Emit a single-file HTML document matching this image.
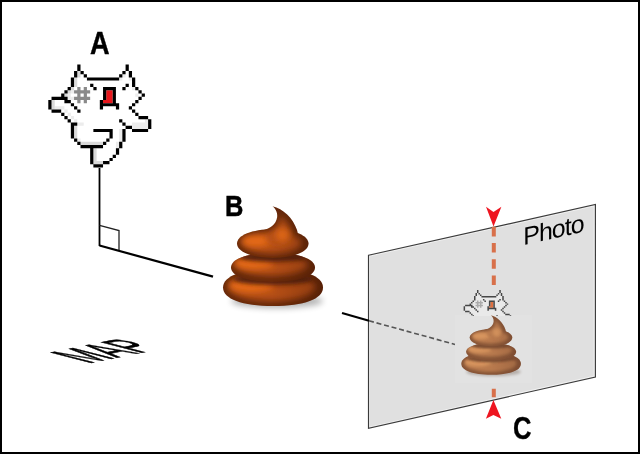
<!DOCTYPE html>
<html><head><meta charset="utf-8">
<style>
html,body{margin:0;padding:0;background:#fff;}
body{width:640px;height:454px;overflow:hidden;position:relative;}
svg{position:absolute;left:0;top:0;}
text{font-family:"Liberation Sans",sans-serif;}
.gs{will-change:transform;}
</style></head><body>
<svg class="gs" width="640" height="454" viewBox="0 0 640 454">
<defs>
<filter id="b3" x="-50%" y="-50%" width="200%" height="200%"><feGaussianBlur stdDeviation="3"/></filter>
<filter id="b05" x="-5%" y="-5%" width="110%" height="110%"><feGaussianBlur stdDeviation="0.6"/></filter>
<filter id="b04" x="-5%" y="-5%" width="110%" height="110%"><feGaussianBlur stdDeviation="0.35"/></filter>
<filter id="b2" x="-50%" y="-50%" width="200%" height="200%"><feGaussianBlur stdDeviation="2"/></filter>
<filter id="mini" color-interpolation-filters="sRGB"><feColorMatrix type="matrix" values="0.625 0 0 0 0.278  0 0.97 0 0 0.178  0 0.6 0 0 0.118  0 0 0 1 0"/></filter>
<clipPath id="cb"><path d="M223,287.5 C223,276.03 242.0,269 273.0,269 C304.0,269 323,276.03 323,287.5 C323,298.97 304.0,306 273.0,306 C242.0,306 223,298.97 223,287.5 Z"/></clipPath>
<clipPath id="cm"><path d="M231,267.5 C231,258.8 247.8,253 273.0,253 C298.2,253 315,258.8 315,267.5 C315,276.2 298.2,282 273.0,282 C247.8,282 231,276.2 231,267.5 Z"/></clipPath>
<clipPath id="ct"><path d="M237,243.6 C237,235.248 252.015,229.2 272.75,229.2 C293.485,229.2 308.5,235.248 308.5,243.6 C308.5,251.952 293.485,258 272.75,258 C252.015,258 237,251.952 237,243.6 Z"/><path d="M272.5,206.2 C283,208.5 293,218 297,230 C299,237 298,242 292,246 C285,249 265,249 258,244 C252,240 254,233 262,230.5 C270,228.5 276,225 277.2,217 C277.8,212 275,208 272.5,206.2 Z"/></clipPath>
<linearGradient id="rdark" x1="0" y1="0" x2="1" y2="0"><stop offset="0" stop-color="#3a1200" stop-opacity="0"/><stop offset="0.5" stop-color="#3a1200" stop-opacity="0"/><stop offset="1" stop-color="#3a1200" stop-opacity="0.35"/></linearGradient>
<clipPath id="call"><path d="M223,287.5 C223,276.03 242.0,269 273.0,269 C304.0,269 323,276.03 323,287.5 C323,298.97 304.0,306 273.0,306 C242.0,306 223,298.97 223,287.5 Z"/><path d="M231,267.5 C231,258.8 247.8,253 273.0,253 C298.2,253 315,258.8 315,267.5 C315,276.2 298.2,282 273.0,282 C247.8,282 231,276.2 231,267.5 Z"/><path d="M237,243.6 C237,235.248 252.015,229.2 272.75,229.2 C293.485,229.2 308.5,235.248 308.5,243.6 C308.5,251.952 293.485,258 272.75,258 C252.015,258 237,251.952 237,243.6 Z"/><path d="M272.5,206.2 C283,208.5 293,218 297,230 C299,237 298,242 292,246 C285,249 265,249 258,244 C252,240 254,233 262,230.5 C270,228.5 276,225 277.2,217 C277.8,212 275,208 272.5,206.2 Z"/></clipPath>
<clipPath id="minicl"><rect x="440" y="280" width="100" height="36"/></clipPath>
</defs>
<rect x="1" y="1" width="638" height="452" fill="#fff" stroke="#000" stroke-width="2"/>
<text x="90.1" y="54" font-size="30.8" font-weight="bold" fill="#000" stroke="#000" stroke-width="0.4" transform="translate(90.1,0) scale(0.88,1) translate(-90.1,0)">A</text>
<text x="225" y="216" font-size="29.6" font-weight="bold" fill="#000" stroke="#000" stroke-width="0.5" transform="translate(225,0) scale(0.86,1) translate(-225,0)">B</text>
<text x="513" y="439.2" font-size="32" font-weight="bold" fill="#000" stroke="#000" stroke-width="0.4" transform="translate(513,0) scale(0.8,1) translate(-513,0)">C</text>
<line x1="99.5" y1="168" x2="99.5" y2="246" stroke="#000" stroke-width="1.8"/>
<polyline points="99.5,225.4 119,230.5 119,250.5" fill="none" stroke="#222" stroke-width="1.3"/>
<line x1="99.5" y1="245.5" x2="213" y2="276.6" stroke="#000" stroke-width="2.2"/>
<polygon points="368.5,255.3 595.4,204.5 595.4,377 368.5,428.3" fill="#f0f0f0" stroke="#3a3a3a" stroke-width="1.15"/>
<polygon points="370,256.6 593.6,206.5 593.6,375.8 370,426.4" fill="#e0e0e0" filter="url(#b05)"/>
<line x1="342" y1="313" x2="369" y2="320.8" stroke="#000" stroke-width="2.2"/>
<line x1="369" y1="320.8" x2="455" y2="344.4" stroke="#555" stroke-width="1.6" stroke-dasharray="5 2.8"/>
<text transform="translate(523.3,245.2) skewY(-12.6)" font-size="25" letter-spacing="-1" fill="#000">Photo</text>
<line x1="493.8" y1="226.8" x2="493.8" y2="397.3" stroke="#d8704a" stroke-width="4" stroke-dasharray="9.6 6.6"/>
<polygon points="486,206.8 493.5,211.9 501.4,206.8 493.5,226.4" fill="#ee1520"/>
<polygon points="493.4,400 501.3,418.8 493.4,415.1 485.9,418.8" fill="#ee1520"/>
<text transform="matrix(1.683,-0.343,2.95,0.754,88.6,363.5)" font-size="20" fill="#000" stroke="#000" stroke-width="0.45">MAP</text>
<g><g>
<ellipse cx="277" cy="301" rx="46" ry="7" fill="#000" opacity="0.3" filter="url(#b3)"/>
<path d="M223,287.5 C223,276.03 242.0,269 273.0,269 C304.0,269 323,276.03 323,287.5 C323,298.97 304.0,306 273.0,306 C242.0,306 223,298.97 223,287.5 Z" fill="#66280b"/>
<g clip-path="url(#cb)">
<ellipse cx="272" cy="287" rx="43.5" ry="14" fill="#b64f18" filter="url(#b3)"/>
<ellipse cx="251" cy="285" rx="22" ry="7" fill="#e66a16" filter="url(#b3)"/>
<ellipse cx="273" cy="279" rx="40" ry="6" fill="#56200a" filter="url(#b2)"/>
</g>
<path d="M231,267.5 C231,258.8 247.8,253 273.0,253 C298.2,253 315,258.8 315,267.5 C315,276.2 298.2,282 273.0,282 C247.8,282 231,276.2 231,267.5 Z" fill="#66280b"/>
<g clip-path="url(#cm)">
<ellipse cx="272" cy="265" rx="36" ry="10.5" fill="#b64f18" filter="url(#b3)"/>
<ellipse cx="253" cy="263" rx="20" ry="6" fill="#e66a16" filter="url(#b3)"/>
<ellipse cx="273" cy="257" rx="33" ry="5" fill="#56200a" filter="url(#b2)"/>
</g>
<path d="M237,243.6 C237,235.248 252.015,229.2 272.75,229.2 C293.485,229.2 308.5,235.248 308.5,243.6 C308.5,251.952 293.485,258 272.75,258 C252.015,258 237,251.952 237,243.6 Z" fill="#66280b"/>
<path d="M272.5,206.2 C283,208.5 293,218 297,230 C299,237 298,242 292,246 C285,249 265,249 258,244 C252,240 254,233 262,230.5 C270,228.5 276,225 277.2,217 C277.8,212 275,208 272.5,206.2 Z" fill="#66280b"/>
<g clip-path="url(#ct)">
<ellipse cx="272" cy="243" rx="29.5" ry="10.5" fill="#b64f18" filter="url(#b3)"/>
<ellipse cx="256" cy="241" rx="15" ry="5.5" fill="#e66a16" filter="url(#b3)"/>
<path d="M276,213 C283,217 290,224 291,234 C291,241 284,244 276,244 C268,244 264,239 268,234 C276,229 281,224 280,216 Z" fill="#b64f18" filter="url(#b3)"/>
<ellipse cx="283" cy="235" rx="7" ry="7" fill="#e66a16" filter="url(#b3)"/>
</g>
<rect x="220" y="200" width="106" height="110" fill="url(#rdark)" clip-path="url(#call)"/>
</g></g>
<g filter="url(#b04)"><g transform="translate(48.3,64.5) scale(3.22)"><path d="M2 13h1v1h-1zM3 13h1v1h-1zM4 13h1v1h-1zM5 14h1v1h-1zM6 9h1v1h-1zM6 10h1v1h-1zM6 15h1v1h-1zM7 8h1v1h-1zM7 10h1v1h-1zM7 16h1v1h-1zM8 17h1v1h-1zM9 18h1v1h-1zM9 23h1v1h-1zM10 18h1v1h-1zM21 24h1v1h-1zM21 25h1v1h-1zM22 4h1v1h-1zM22 20h1v1h-1zM22 21h1v1h-1zM22 22h1v1h-1zM22 23h1v1h-1zM23 3h1v1h-1zM25 4h1v1h-1zM26 7h1v1h-1zM26 18h1v1h-1zM26 19h1v1h-1zM27 9h1v1h-1zM27 18h1v1h-1zM27 19h1v1h-1zM28 18h1v1h-1zM28 19h1v1h-1zM29 18h1v1h-1zM29 19h1v1h-1zM30 17h1v1h-1zM30 18h1v1h-1zM30 19h1v1h-1z" fill="#ececec"/><path d="M1 11h1v1h-1zM1 12h1v1h-1zM1 13h1v1h-1zM5 9h1v1h-1zM6 8h1v1h-1zM7 7h1v1h-1zM8 4h1v1h-1zM8 5h1v1h-1zM8 6h1v1h-1zM8 19h1v1h-1zM8 20h1v1h-1zM8 21h1v1h-1zM8 22h1v1h-1zM9 2h1v1h-1zM9 3h1v1h-1zM10 24h1v1h-1zM11 24h1v1h-1zM12 24h1v1h-1zM13 24h1v1h-1zM14 24h1v1h-1zM14 26h1v1h-1zM14 27h1v1h-1zM14 28h1v1h-1zM14 29h1v1h-1zM14 30h1v1h-1zM15 24h1v1h-1zM15 30h1v1h-1zM16 24h1v1h-1zM16 30h1v1h-1z" fill="#d9d9d9"/><path d="M8 8h1v1h-1zM8 10h1v1h-1zM9 7h1v1h-1zM9 8h1v1h-1zM9 9h1v1h-1zM9 10h1v1h-1zM9 11h1v1h-1zM10 8h1v1h-1zM10 10h1v1h-1zM11 7h1v1h-1zM11 8h1v1h-1zM11 9h1v1h-1zM11 10h1v1h-1zM11 11h1v1h-1zM12 8h1v1h-1zM12 10h1v1h-1z" fill="#8a8a8a"/><path d="M17 11h1v1h-1zM18 8h1v1h-1zM18 9h1v1h-1zM18 10h1v1h-1zM18 11h1v1h-1zM19 8h1v1h-1zM19 9h1v1h-1zM19 10h1v1h-1zM19 11h1v1h-1z" fill="#e8141c"/><path d="M0 11h1v1h-1zM0 12h1v1h-1zM0 13h1v1h-1zM1 10h1v1h-1zM1 14h1v1h-1zM2 10h1v1h-1zM2 14h1v1h-1zM3 10h1v1h-1zM3 14h1v1h-1zM4 9h1v1h-1zM4 10h1v1h-1zM4 15h1v1h-1zM5 8h1v1h-1zM5 10h1v1h-1zM5 11h1v1h-1zM5 16h1v1h-1zM6 7h1v1h-1zM6 11h1v1h-1zM6 17h1v1h-1zM7 4h1v1h-1zM7 5h1v1h-1zM7 6h1v1h-1zM7 12h1v1h-1zM7 18h1v1h-1zM7 19h1v1h-1zM7 20h1v1h-1zM7 21h1v1h-1zM7 22h1v1h-1zM8 2h1v1h-1zM8 3h1v1h-1zM8 13h1v1h-1zM8 18h1v1h-1zM8 23h1v1h-1zM9 0h1v1h-1zM9 1h1v1h-1zM9 14h1v1h-1zM9 24h1v1h-1zM10 2h1v1h-1zM10 25h1v1h-1zM11 3h1v1h-1zM11 25h1v1h-1zM12 4h1v1h-1zM12 25h1v1h-1zM13 4h1v1h-1zM13 6h1v1h-1zM13 25h1v1h-1zM13 26h1v1h-1zM13 27h1v1h-1zM13 28h1v1h-1zM13 29h1v1h-1zM13 30h1v1h-1zM14 4h1v1h-1zM14 7h1v1h-1zM14 20h1v1h-1zM14 25h1v1h-1zM14 31h1v1h-1zM15 4h1v1h-1zM15 20h1v1h-1zM15 25h1v1h-1zM15 31h1v1h-1zM16 4h1v1h-1zM16 11h1v1h-1zM16 12h1v1h-1zM16 13h1v1h-1zM16 20h1v1h-1zM16 25h1v1h-1zM16 31h1v1h-1zM17 4h1v1h-1zM17 7h1v1h-1zM17 8h1v1h-1zM17 9h1v1h-1zM17 10h1v1h-1zM17 12h1v1h-1zM17 20h1v1h-1zM17 24h1v1h-1zM17 30h1v1h-1zM18 4h1v1h-1zM18 7h1v1h-1zM18 12h1v1h-1zM18 20h1v1h-1zM18 23h1v1h-1zM18 30h1v1h-1zM19 4h1v1h-1zM19 7h1v1h-1zM19 12h1v1h-1zM19 20h1v1h-1zM19 21h1v1h-1zM19 22h1v1h-1zM19 29h1v1h-1zM20 4h1v1h-1zM20 7h1v1h-1zM20 8h1v1h-1zM20 9h1v1h-1zM20 10h1v1h-1zM20 11h1v1h-1zM20 12h1v1h-1zM20 28h1v1h-1zM21 4h1v1h-1zM21 12h1v1h-1zM21 13h1v1h-1zM21 26h1v1h-1zM21 27h1v1h-1zM22 3h1v1h-1zM22 17h1v1h-1zM22 24h1v1h-1zM22 25h1v1h-1zM23 2h1v1h-1zM23 7h1v1h-1zM23 18h1v1h-1zM23 20h1v1h-1zM23 21h1v1h-1zM23 22h1v1h-1zM23 23h1v1h-1zM24 0h1v1h-1zM24 1h1v1h-1zM24 6h1v1h-1zM24 19h1v1h-1zM25 2h1v1h-1zM25 3h1v1h-1zM25 13h1v1h-1zM25 19h1v1h-1zM26 4h1v1h-1zM26 5h1v1h-1zM26 6h1v1h-1zM26 12h1v1h-1zM26 14h1v1h-1zM26 20h1v1h-1zM27 7h1v1h-1zM27 11h1v1h-1zM27 15h1v1h-1zM27 20h1v1h-1zM28 8h1v1h-1zM28 10h1v1h-1zM28 16h1v1h-1zM28 20h1v1h-1zM29 9h1v1h-1zM29 16h1v1h-1zM29 20h1v1h-1zM30 16h1v1h-1zM30 20h1v1h-1zM31 17h1v1h-1zM31 18h1v1h-1zM31 19h1v1h-1z" fill="#000"/></g></g>

<rect x="455" y="285" width="77" height="31" fill="#e0e0e0"/><rect x="455" y="315" width="77" height="68" fill="#e2e2e2"/>
<g clip-path="url(#minicl)"><g transform="translate(463.6,290) scale(1.487)"><path d="M1 11h1v1h-1zM1 12h1v1h-1zM1 13h1v1h-1zM2 11h1v1h-1zM2 12h1v1h-1zM2 13h1v1h-1zM3 11h1v1h-1zM3 12h1v1h-1zM3 13h1v1h-1zM4 11h1v1h-1zM4 12h1v1h-1zM4 13h1v1h-1zM4 14h1v1h-1zM5 9h1v1h-1zM5 12h1v1h-1zM5 13h1v1h-1zM5 14h1v1h-1zM5 15h1v1h-1zM6 8h1v1h-1zM6 9h1v1h-1zM6 10h1v1h-1zM6 12h1v1h-1zM6 13h1v1h-1zM6 14h1v1h-1zM6 15h1v1h-1zM6 16h1v1h-1zM7 7h1v1h-1zM7 8h1v1h-1zM7 9h1v1h-1zM7 10h1v1h-1zM7 11h1v1h-1zM7 13h1v1h-1zM7 14h1v1h-1zM7 15h1v1h-1zM7 16h1v1h-1zM7 17h1v1h-1zM8 4h1v1h-1zM8 5h1v1h-1zM8 6h1v1h-1zM8 7h1v1h-1zM8 8h1v1h-1zM8 9h1v1h-1zM8 10h1v1h-1zM8 11h1v1h-1zM8 12h1v1h-1zM8 14h1v1h-1zM8 15h1v1h-1zM8 16h1v1h-1zM8 17h1v1h-1zM8 19h1v1h-1zM8 20h1v1h-1zM8 21h1v1h-1zM8 22h1v1h-1zM9 2h1v1h-1zM9 3h1v1h-1zM9 4h1v1h-1zM9 5h1v1h-1zM9 6h1v1h-1zM9 7h1v1h-1zM9 8h1v1h-1zM9 9h1v1h-1zM9 10h1v1h-1zM9 11h1v1h-1zM9 12h1v1h-1zM9 13h1v1h-1zM9 15h1v1h-1zM9 16h1v1h-1zM9 17h1v1h-1zM9 18h1v1h-1zM9 19h1v1h-1zM9 20h1v1h-1zM9 21h1v1h-1zM9 22h1v1h-1zM9 23h1v1h-1zM10 3h1v1h-1zM10 4h1v1h-1zM10 5h1v1h-1zM10 6h1v1h-1zM10 7h1v1h-1zM10 8h1v1h-1zM10 9h1v1h-1zM10 10h1v1h-1zM10 11h1v1h-1zM10 12h1v1h-1zM10 13h1v1h-1zM10 14h1v1h-1zM10 15h1v1h-1zM10 16h1v1h-1zM10 17h1v1h-1zM10 18h1v1h-1zM10 19h1v1h-1zM10 20h1v1h-1zM10 21h1v1h-1zM10 22h1v1h-1zM10 23h1v1h-1zM10 24h1v1h-1zM11 4h1v1h-1zM11 5h1v1h-1zM11 6h1v1h-1zM11 7h1v1h-1zM11 8h1v1h-1zM11 9h1v1h-1zM11 10h1v1h-1zM11 11h1v1h-1zM11 12h1v1h-1zM11 13h1v1h-1zM11 14h1v1h-1zM11 15h1v1h-1zM11 16h1v1h-1zM11 17h1v1h-1zM11 18h1v1h-1zM11 19h1v1h-1zM11 20h1v1h-1zM11 21h1v1h-1zM11 22h1v1h-1zM11 23h1v1h-1zM11 24h1v1h-1zM12 5h1v1h-1zM12 6h1v1h-1zM12 7h1v1h-1zM12 8h1v1h-1zM12 9h1v1h-1zM12 10h1v1h-1zM12 11h1v1h-1zM12 12h1v1h-1zM12 13h1v1h-1zM12 14h1v1h-1zM12 15h1v1h-1zM12 16h1v1h-1zM12 17h1v1h-1zM12 18h1v1h-1zM12 19h1v1h-1zM12 20h1v1h-1zM12 21h1v1h-1zM12 22h1v1h-1zM12 23h1v1h-1zM12 24h1v1h-1zM13 5h1v1h-1zM13 7h1v1h-1zM13 8h1v1h-1zM13 9h1v1h-1zM13 10h1v1h-1zM13 11h1v1h-1zM13 12h1v1h-1zM13 13h1v1h-1zM13 14h1v1h-1zM13 15h1v1h-1zM13 16h1v1h-1zM13 17h1v1h-1zM13 18h1v1h-1zM13 19h1v1h-1zM13 20h1v1h-1zM13 21h1v1h-1zM13 22h1v1h-1zM13 23h1v1h-1zM13 24h1v1h-1zM14 5h1v1h-1zM14 6h1v1h-1zM14 8h1v1h-1zM14 9h1v1h-1zM14 10h1v1h-1zM14 11h1v1h-1zM14 12h1v1h-1zM14 13h1v1h-1zM14 14h1v1h-1zM14 15h1v1h-1zM14 16h1v1h-1zM14 17h1v1h-1zM14 18h1v1h-1zM14 19h1v1h-1zM14 21h1v1h-1zM14 22h1v1h-1zM14 23h1v1h-1zM14 24h1v1h-1zM14 26h1v1h-1zM14 27h1v1h-1zM14 28h1v1h-1zM14 29h1v1h-1zM14 30h1v1h-1zM15 5h1v1h-1zM15 6h1v1h-1zM15 7h1v1h-1zM15 8h1v1h-1zM15 9h1v1h-1zM15 10h1v1h-1zM15 11h1v1h-1zM15 12h1v1h-1zM15 13h1v1h-1zM15 14h1v1h-1zM15 15h1v1h-1zM15 16h1v1h-1zM15 17h1v1h-1zM15 18h1v1h-1zM15 19h1v1h-1zM15 21h1v1h-1zM15 22h1v1h-1zM15 23h1v1h-1zM15 24h1v1h-1zM15 26h1v1h-1zM15 27h1v1h-1zM15 28h1v1h-1zM15 29h1v1h-1zM15 30h1v1h-1zM16 5h1v1h-1zM16 6h1v1h-1zM16 7h1v1h-1zM16 8h1v1h-1zM16 9h1v1h-1zM16 10h1v1h-1zM16 14h1v1h-1zM16 15h1v1h-1zM16 16h1v1h-1zM16 17h1v1h-1zM16 18h1v1h-1zM16 19h1v1h-1zM16 21h1v1h-1zM16 22h1v1h-1zM16 23h1v1h-1zM16 24h1v1h-1zM16 26h1v1h-1zM16 27h1v1h-1zM16 28h1v1h-1zM16 29h1v1h-1zM16 30h1v1h-1zM17 5h1v1h-1zM17 6h1v1h-1zM17 11h1v1h-1zM17 13h1v1h-1zM17 14h1v1h-1zM17 15h1v1h-1zM17 16h1v1h-1zM17 17h1v1h-1zM17 18h1v1h-1zM17 19h1v1h-1zM17 21h1v1h-1zM17 22h1v1h-1zM17 23h1v1h-1zM17 25h1v1h-1zM17 26h1v1h-1zM17 27h1v1h-1zM17 28h1v1h-1zM17 29h1v1h-1zM18 5h1v1h-1zM18 6h1v1h-1zM18 8h1v1h-1zM18 9h1v1h-1zM18 10h1v1h-1zM18 11h1v1h-1zM18 13h1v1h-1zM18 14h1v1h-1zM18 15h1v1h-1zM18 16h1v1h-1zM18 17h1v1h-1zM18 18h1v1h-1zM18 19h1v1h-1zM18 21h1v1h-1zM18 22h1v1h-1zM18 24h1v1h-1zM18 25h1v1h-1zM18 26h1v1h-1zM18 27h1v1h-1zM18 28h1v1h-1zM18 29h1v1h-1zM19 5h1v1h-1zM19 6h1v1h-1zM19 8h1v1h-1zM19 9h1v1h-1zM19 10h1v1h-1zM19 11h1v1h-1zM19 13h1v1h-1zM19 14h1v1h-1zM19 15h1v1h-1zM19 16h1v1h-1zM19 17h1v1h-1zM19 18h1v1h-1zM19 19h1v1h-1zM19 23h1v1h-1zM19 24h1v1h-1zM19 25h1v1h-1zM19 26h1v1h-1zM19 27h1v1h-1zM19 28h1v1h-1zM20 5h1v1h-1zM20 6h1v1h-1zM20 13h1v1h-1zM20 14h1v1h-1zM20 15h1v1h-1zM20 16h1v1h-1zM20 17h1v1h-1zM20 18h1v1h-1zM20 19h1v1h-1zM20 20h1v1h-1zM20 21h1v1h-1zM20 22h1v1h-1zM20 23h1v1h-1zM20 24h1v1h-1zM20 25h1v1h-1zM20 26h1v1h-1zM20 27h1v1h-1zM21 5h1v1h-1zM21 6h1v1h-1zM21 7h1v1h-1zM21 8h1v1h-1zM21 9h1v1h-1zM21 10h1v1h-1zM21 11h1v1h-1zM21 14h1v1h-1zM21 15h1v1h-1zM21 16h1v1h-1zM21 17h1v1h-1zM21 18h1v1h-1zM21 19h1v1h-1zM21 20h1v1h-1zM21 21h1v1h-1zM21 22h1v1h-1zM21 23h1v1h-1zM21 24h1v1h-1zM21 25h1v1h-1zM22 4h1v1h-1zM22 5h1v1h-1zM22 6h1v1h-1zM22 7h1v1h-1zM22 8h1v1h-1zM22 9h1v1h-1zM22 10h1v1h-1zM22 11h1v1h-1zM22 12h1v1h-1zM22 13h1v1h-1zM22 14h1v1h-1zM22 15h1v1h-1zM22 16h1v1h-1zM22 18h1v1h-1zM22 19h1v1h-1zM22 20h1v1h-1zM22 21h1v1h-1zM22 22h1v1h-1zM22 23h1v1h-1zM23 3h1v1h-1zM23 4h1v1h-1zM23 5h1v1h-1zM23 6h1v1h-1zM23 8h1v1h-1zM23 9h1v1h-1zM23 10h1v1h-1zM23 11h1v1h-1zM23 12h1v1h-1zM23 13h1v1h-1zM23 14h1v1h-1zM23 15h1v1h-1zM23 16h1v1h-1zM23 17h1v1h-1zM23 19h1v1h-1zM24 2h1v1h-1zM24 3h1v1h-1zM24 4h1v1h-1zM24 5h1v1h-1zM24 7h1v1h-1zM24 8h1v1h-1zM24 9h1v1h-1zM24 10h1v1h-1zM24 11h1v1h-1zM24 12h1v1h-1zM24 13h1v1h-1zM24 14h1v1h-1zM24 15h1v1h-1zM24 16h1v1h-1zM24 17h1v1h-1zM24 18h1v1h-1zM25 4h1v1h-1zM25 5h1v1h-1zM25 6h1v1h-1zM25 7h1v1h-1zM25 8h1v1h-1zM25 9h1v1h-1zM25 10h1v1h-1zM25 11h1v1h-1zM25 12h1v1h-1zM25 14h1v1h-1zM25 15h1v1h-1zM25 16h1v1h-1zM25 17h1v1h-1zM25 18h1v1h-1zM26 7h1v1h-1zM26 8h1v1h-1zM26 9h1v1h-1zM26 10h1v1h-1zM26 11h1v1h-1zM26 15h1v1h-1zM26 16h1v1h-1zM26 17h1v1h-1zM26 18h1v1h-1zM26 19h1v1h-1zM27 8h1v1h-1zM27 9h1v1h-1zM27 10h1v1h-1zM27 16h1v1h-1zM27 17h1v1h-1zM27 18h1v1h-1zM27 19h1v1h-1zM28 9h1v1h-1zM28 17h1v1h-1zM28 18h1v1h-1zM28 19h1v1h-1zM29 17h1v1h-1zM29 18h1v1h-1zM29 19h1v1h-1zM30 17h1v1h-1zM30 18h1v1h-1zM30 19h1v1h-1z" fill="#e9e9e9"/><path d="M2 13h1v1h-1zM3 13h1v1h-1zM4 13h1v1h-1zM5 14h1v1h-1zM6 9h1v1h-1zM6 10h1v1h-1zM6 15h1v1h-1zM7 8h1v1h-1zM7 10h1v1h-1zM7 16h1v1h-1zM8 17h1v1h-1zM9 18h1v1h-1zM9 23h1v1h-1zM10 18h1v1h-1zM21 24h1v1h-1zM21 25h1v1h-1zM22 4h1v1h-1zM22 20h1v1h-1zM22 21h1v1h-1zM22 22h1v1h-1zM22 23h1v1h-1zM23 3h1v1h-1zM25 4h1v1h-1zM26 7h1v1h-1zM26 18h1v1h-1zM26 19h1v1h-1zM27 9h1v1h-1zM27 18h1v1h-1zM27 19h1v1h-1zM28 18h1v1h-1zM28 19h1v1h-1zM29 18h1v1h-1zM29 19h1v1h-1zM30 17h1v1h-1zM30 18h1v1h-1zM30 19h1v1h-1z" fill="#e8e8e8"/><path d="M1 11h1v1h-1zM1 12h1v1h-1zM1 13h1v1h-1zM5 9h1v1h-1zM6 8h1v1h-1zM7 7h1v1h-1zM8 4h1v1h-1zM8 5h1v1h-1zM8 6h1v1h-1zM8 19h1v1h-1zM8 20h1v1h-1zM8 21h1v1h-1zM8 22h1v1h-1zM9 2h1v1h-1zM9 3h1v1h-1zM10 24h1v1h-1zM11 24h1v1h-1zM12 24h1v1h-1zM13 24h1v1h-1zM14 24h1v1h-1zM14 26h1v1h-1zM14 27h1v1h-1zM14 28h1v1h-1zM14 29h1v1h-1zM14 30h1v1h-1zM15 24h1v1h-1zM15 30h1v1h-1zM16 24h1v1h-1zM16 30h1v1h-1z" fill="#e4e4e4"/><path d="M8 8h1v1h-1zM8 10h1v1h-1zM9 7h1v1h-1zM9 8h1v1h-1zM9 9h1v1h-1zM9 10h1v1h-1zM9 11h1v1h-1zM10 8h1v1h-1zM10 10h1v1h-1zM11 7h1v1h-1zM11 8h1v1h-1zM11 9h1v1h-1zM11 10h1v1h-1zM11 11h1v1h-1zM12 8h1v1h-1zM12 10h1v1h-1z" fill="#aaa"/><path d="M17 11h1v1h-1zM18 8h1v1h-1zM18 9h1v1h-1zM18 10h1v1h-1zM18 11h1v1h-1zM19 8h1v1h-1zM19 9h1v1h-1zM19 10h1v1h-1zM19 11h1v1h-1z" fill="#e07040"/><path d="M0 11h1v1h-1zM0 12h1v1h-1zM0 13h1v1h-1zM1 10h1v1h-1zM1 14h1v1h-1zM2 10h1v1h-1zM2 14h1v1h-1zM3 10h1v1h-1zM3 14h1v1h-1zM4 9h1v1h-1zM4 10h1v1h-1zM4 15h1v1h-1zM5 8h1v1h-1zM5 10h1v1h-1zM5 11h1v1h-1zM5 16h1v1h-1zM6 7h1v1h-1zM6 11h1v1h-1zM6 17h1v1h-1zM7 4h1v1h-1zM7 5h1v1h-1zM7 6h1v1h-1zM7 12h1v1h-1zM7 18h1v1h-1zM7 19h1v1h-1zM7 20h1v1h-1zM7 21h1v1h-1zM7 22h1v1h-1zM8 2h1v1h-1zM8 3h1v1h-1zM8 13h1v1h-1zM8 18h1v1h-1zM8 23h1v1h-1zM9 0h1v1h-1zM9 1h1v1h-1zM9 14h1v1h-1zM9 24h1v1h-1zM10 2h1v1h-1zM10 25h1v1h-1zM11 3h1v1h-1zM11 25h1v1h-1zM12 4h1v1h-1zM12 25h1v1h-1zM13 4h1v1h-1zM13 6h1v1h-1zM13 25h1v1h-1zM13 26h1v1h-1zM13 27h1v1h-1zM13 28h1v1h-1zM13 29h1v1h-1zM13 30h1v1h-1zM14 4h1v1h-1zM14 7h1v1h-1zM14 20h1v1h-1zM14 25h1v1h-1zM14 31h1v1h-1zM15 4h1v1h-1zM15 20h1v1h-1zM15 25h1v1h-1zM15 31h1v1h-1zM16 4h1v1h-1zM16 11h1v1h-1zM16 12h1v1h-1zM16 13h1v1h-1zM16 20h1v1h-1zM16 25h1v1h-1zM16 31h1v1h-1zM17 4h1v1h-1zM17 7h1v1h-1zM17 8h1v1h-1zM17 9h1v1h-1zM17 10h1v1h-1zM17 12h1v1h-1zM17 20h1v1h-1zM17 24h1v1h-1zM17 30h1v1h-1zM18 4h1v1h-1zM18 7h1v1h-1zM18 12h1v1h-1zM18 20h1v1h-1zM18 23h1v1h-1zM18 30h1v1h-1zM19 4h1v1h-1zM19 7h1v1h-1zM19 12h1v1h-1zM19 20h1v1h-1zM19 21h1v1h-1zM19 22h1v1h-1zM19 29h1v1h-1zM20 4h1v1h-1zM20 7h1v1h-1zM20 8h1v1h-1zM20 9h1v1h-1zM20 10h1v1h-1zM20 11h1v1h-1zM20 12h1v1h-1zM20 28h1v1h-1zM21 4h1v1h-1zM21 12h1v1h-1zM21 13h1v1h-1zM21 26h1v1h-1zM21 27h1v1h-1zM22 3h1v1h-1zM22 17h1v1h-1zM22 24h1v1h-1zM22 25h1v1h-1zM23 2h1v1h-1zM23 7h1v1h-1zM23 18h1v1h-1zM23 20h1v1h-1zM23 21h1v1h-1zM23 22h1v1h-1zM23 23h1v1h-1zM24 0h1v1h-1zM24 1h1v1h-1zM24 6h1v1h-1zM24 19h1v1h-1zM25 2h1v1h-1zM25 3h1v1h-1zM25 13h1v1h-1zM25 19h1v1h-1zM26 4h1v1h-1zM26 5h1v1h-1zM26 6h1v1h-1zM26 12h1v1h-1zM26 14h1v1h-1zM26 20h1v1h-1zM27 7h1v1h-1zM27 11h1v1h-1zM27 15h1v1h-1zM27 20h1v1h-1zM28 8h1v1h-1zM28 10h1v1h-1zM28 16h1v1h-1zM28 20h1v1h-1zM29 9h1v1h-1zM29 16h1v1h-1zM29 20h1v1h-1zM30 16h1v1h-1zM30 20h1v1h-1zM31 17h1v1h-1zM31 18h1v1h-1zM31 19h1v1h-1z" fill="#464646"/></g></g>
<g transform="translate(328.4,192.4) scale(0.596)" filter="url(#mini)"><g>
<ellipse cx="277" cy="301" rx="46" ry="7" fill="#000" opacity="0.3" filter="url(#b3)"/>
<path d="M223,287.5 C223,276.03 242.0,269 273.0,269 C304.0,269 323,276.03 323,287.5 C323,298.97 304.0,306 273.0,306 C242.0,306 223,298.97 223,287.5 Z" fill="#66280b"/>
<g clip-path="url(#cb)">
<ellipse cx="272" cy="287" rx="43.5" ry="14" fill="#b64f18" filter="url(#b3)"/>
<ellipse cx="251" cy="285" rx="22" ry="7" fill="#e66a16" filter="url(#b3)"/>
<ellipse cx="273" cy="279" rx="40" ry="6" fill="#56200a" filter="url(#b2)"/>
</g>
<path d="M231,267.5 C231,258.8 247.8,253 273.0,253 C298.2,253 315,258.8 315,267.5 C315,276.2 298.2,282 273.0,282 C247.8,282 231,276.2 231,267.5 Z" fill="#66280b"/>
<g clip-path="url(#cm)">
<ellipse cx="272" cy="265" rx="36" ry="10.5" fill="#b64f18" filter="url(#b3)"/>
<ellipse cx="253" cy="263" rx="20" ry="6" fill="#e66a16" filter="url(#b3)"/>
<ellipse cx="273" cy="257" rx="33" ry="5" fill="#56200a" filter="url(#b2)"/>
</g>
<path d="M237,243.6 C237,235.248 252.015,229.2 272.75,229.2 C293.485,229.2 308.5,235.248 308.5,243.6 C308.5,251.952 293.485,258 272.75,258 C252.015,258 237,251.952 237,243.6 Z" fill="#66280b"/>
<path d="M272.5,206.2 C283,208.5 293,218 297,230 C299,237 298,242 292,246 C285,249 265,249 258,244 C252,240 254,233 262,230.5 C270,228.5 276,225 277.2,217 C277.8,212 275,208 272.5,206.2 Z" fill="#66280b"/>
<g clip-path="url(#ct)">
<ellipse cx="272" cy="243" rx="29.5" ry="10.5" fill="#b64f18" filter="url(#b3)"/>
<ellipse cx="256" cy="241" rx="15" ry="5.5" fill="#e66a16" filter="url(#b3)"/>
<path d="M276,213 C283,217 290,224 291,234 C291,241 284,244 276,244 C268,244 264,239 268,234 C276,229 281,224 280,216 Z" fill="#b64f18" filter="url(#b3)"/>
<ellipse cx="283" cy="235" rx="7" ry="7" fill="#e66a16" filter="url(#b3)"/>
</g>
<rect x="220" y="200" width="106" height="110" fill="url(#rdark)" clip-path="url(#call)"/>
</g></g>
</svg>
</body></html>
